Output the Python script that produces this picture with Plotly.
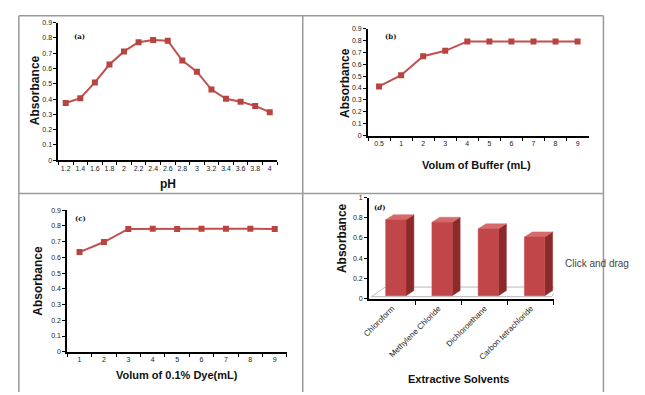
import plotly.graph_objects as go

W, H = 645, 395

# ---------------- data ----------------
ph_labels = ["1.2", "1.4", "1.6", "1.8", "2", "2.2", "2.4", "2.6", "2.8", "3", "3.2", "3.4", "3.6", "3.8", "4"]
ph_abs = [0.374, 0.406, 0.509, 0.626, 0.712, 0.772, 0.787, 0.782, 0.652, 0.579, 0.462, 0.402, 0.383, 0.355, 0.314]

buffer_labels = ["0.5", "1", "2", "3", "4", "5", "6", "7", "8", "9"]
buffer_abs = [0.414, 0.508, 0.667, 0.713, 0.792, 0.792, 0.792, 0.792, 0.792, 0.792]

dye_labels = ["1", "2", "3", "4", "5", "6", "7", "8", "9"]
dye_abs = [0.634, 0.698, 0.781, 0.783, 0.781, 0.783, 0.783, 0.783, 0.781]

solvents = ["Chloroform", "Methylene Chloride", "Dichloroethane", "Carbon tetrachloride"]
solvent_abs = [0.78, 0.755, 0.69, 0.61]

absorb_ticks_a = [0, 0.1, 0.2, 0.3, 0.4, 0.5, 0.6, 0.7, 0.8, 0.9]
absorb_ticks_d = [0, 0.2, 0.4, 0.6, 0.8, 1]

# ---------------- helpers ----------------
def px_x(x):
    return x / W

def px_y(y):
    return 1 - y / H

LINE_C = "#C0504D"
MARK_C = "#B8433F"
TICK_FONT = dict(family="Liberation Sans", size=7, color="#222")
TITLE_FONT = dict(family="Liberation Sans", size=11, color="#111")

fig = go.Figure()

def add_line_panel(idx, labels, values, x0, x1, ytop, ybot):
    xa = "x" if idx == 1 else f"x{idx}"
    ya = "y" if idx == 1 else f"y{idx}"
    fig.add_trace(go.Scatter(
        x=labels, y=values, mode="lines+markers", xaxis=xa, yaxis=ya,
        line=dict(color=LINE_C, width=2),
        marker=dict(symbol="square", size=6, color=MARK_C),
        showlegend=False, hoverinfo="x+y"))
    n = len(labels)
    fig.layout[f"xaxis{'' if idx == 1 else idx}"] = dict(
        domain=[px_x(x0), px_x(x1)], anchor=ya, type="category",
        range=[-0.5, n - 0.5], showline=True, linecolor="#000", linewidth=2,
        ticks="outside", ticklen=3, tickcolor="#000", tickwidth=1,
        tickson="boundaries", showgrid=False, zeroline=False,
        tickfont=TICK_FONT, fixedrange=True, tickangle=0)
    fig.layout[f"yaxis{'' if idx == 1 else idx}"] = dict(
        domain=[px_y(ybot), px_y(ytop)], anchor=xa,
        range=[0, 0.9], tickvals=absorb_ticks_a,
        ticktext=[f"{v:g}" for v in absorb_ticks_a],
        showline=True, linecolor="#000", linewidth=2,
        ticks="outside", ticklen=3, tickcolor="#000", tickwidth=1,
        showgrid=False, zeroline=False, tickfont=TICK_FONT, fixedrange=True)

add_line_panel(1, ph_labels, ph_abs, 52, 273, 19, 159)
add_line_panel(2, buffer_labels, buffer_abs, 365, 588, 25, 134)
add_line_panel(3, dye_labels, dye_abs, 61, 283, 210, 354)

# ---------------- panel (d): pseudo-3D columns ----------------
bw = 0.44     # front face width (category units)
off = 0.08    # shift of front face
dx = 0.17     # depth in x (category units)
dy = 0.05     # depth in y (value units)
FRONT = "#C0464A"
SIDE = "#8C2A2B"
TOP = "#D56A6B"

# floor (derived from category count)
ncat = len(solvents)
fig.add_trace(go.Scatter(
    x=[-0.45, ncat - 0.55, ncat - 0.55 + 0.15, -0.45 + 0.3, -0.45],
    y=[0.02, 0.02, 0.115, 0.115, 0.02],
    mode="lines", line=dict(color="#BBBBBB", width=1), fill="toself",
    fillcolor="rgba(255,255,255,0)", xaxis="x4", yaxis="y4",
    showlegend=False, hoverinfo="skip"))

for i, (name, v) in enumerate(zip(solvents, solvent_abs)):
    c = i + off
    l, r = c - bw / 2, c + bw / 2
    b = 0.03
    # side face
    fig.add_trace(go.Scatter(
        x=[r, r + dx, r + dx, r, r], y=[b, b + dy, v + dy, v, b],
        mode="lines", fill="toself", fillcolor=SIDE, line=dict(color=SIDE, width=0.5),
        xaxis="x4", yaxis="y4", showlegend=False, hoverinfo="skip"))
    # top face
    fig.add_trace(go.Scatter(
        x=[l, r, r + dx, l + dx, l], y=[v, v, v + dy, v + dy, v],
        mode="lines", fill="toself", fillcolor=TOP, line=dict(color=TOP, width=0.5),
        xaxis="x4", yaxis="y4", showlegend=False, hoverinfo="skip"))
    # front face
    fig.add_trace(go.Scatter(
        x=[l, r, r, l, l], y=[b, b, v, v, b],
        mode="lines", fill="toself", fillcolor=FRONT, line=dict(color=FRONT, width=0.5),
        xaxis="x4", yaxis="y4", showlegend=False, name=name,
        hovertemplate=f"{name}: {v}<extra></extra>"))

fig.layout["xaxis4"] = dict(
    domain=[px_x(366), px_x(553)], anchor="y4", range=[-0.5, ncat - 0.5],
    tickvals=list(range(ncat)), ticktext=solvents, tickangle=-45,
    showline=True, linecolor="#000", linewidth=2, ticks="",
    minor=dict(tickvals=[i + 0.5 for i in range(ncat)], ticks="outside",
               ticklen=4, tickcolor="#000", tickwidth=1, showgrid=False),
    showgrid=False, zeroline=False,
    tickfont=dict(family="Liberation Sans", size=8, color="#222"), fixedrange=True)
fig.layout["yaxis4"] = dict(
    domain=[px_y(300), px_y(197)], anchor="x4", range=[0, 1],
    tickvals=absorb_ticks_d, ticktext=[f"{v:g}" for v in absorb_ticks_d],
    showline=True, linecolor="#000", linewidth=2, ticks="outside", ticklen=3,
    tickcolor="#000", showgrid=False, zeroline=False, tickfont=TICK_FONT,
    fixedrange=True)

# ---------------- annotations ----------------
ann = []
def text(x, y, s, font, angle=0, xanchor="center"):
    ann.append(dict(x=px_x(x), y=px_y(y), xref="paper", yref="paper", text=s,
                    showarrow=False, font=font, textangle=angle,
                    xanchor=xanchor, yanchor="middle"))

bold = lambda s: f"<b>{s}</b>"
AF = dict(family="Liberation Sans", size=12, color="#111")
text(29, 88, bold("Absorbance"), AF, -90)
text(341, 80, bold("Absorbance"), AF, -90)
text(31, 282, bold("Absorbance"), AF, -90)
text(338, 238, bold("Absorbance"), AF, -90)
text(163, 183, bold("pH"), dict(family="Liberation Sans", size=12, color="#111"))
text(475, 164, bold("Volum of Buffer (mL)"), TITLE_FONT)
text(172, 378, bold("Volum of 0.1% Dye(mL)"), TITLE_FONT)
text(457, 382, bold("Extractive Solvents"), TITLE_FONT)

PF = dict(family="DejaVu Serif", size=7, color="#111")
text(73, 33, bold("(a)"), PF)
text(388, 33, bold("(b)"), PF)
text(74, 218, bold("(c)"), PF)
text(377, 207, bold("(<i>d</i>)"), PF)

text(562, 264, "Click and drag", dict(family="Liberation Sans", size=10, color="#444"), xanchor="left")

# ---------------- panel borders ----------------
BC = "#9A9A9A"
shapes = []
def seg(x0, y0, x1, y1):
    shapes.append(dict(type="line", xref="paper", yref="paper",
                       x0=px_x(x0), y0=px_y(y0), x1=px_x(x1), y1=px_y(y1),
                       line=dict(color=BC, width=1.5)))
seg(12, 12, 603, 12)
seg(12, 193, 603, 193)
seg(12, 12, 12, 395)
seg(299, 12, 299, 395)
seg(603, 12, 603, 395)

fig.update_layout(
    width=W, height=H, margin=dict(l=0, r=0, t=0, b=0),
    paper_bgcolor="white", plot_bgcolor="rgba(0,0,0,0)",
    annotations=ann, shapes=shapes, showlegend=False)

fig.write_html("out.html", config={"displayModeBar": False},
               post_script="document.body.style.margin='0';document.body.style.overflow='hidden';")
